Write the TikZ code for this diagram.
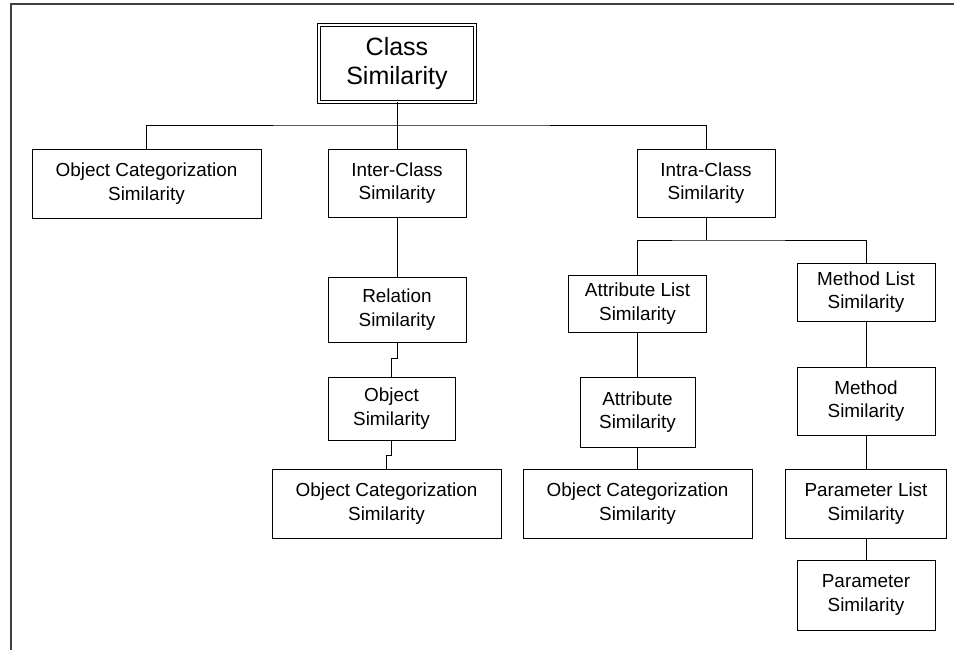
\documentclass[tikz,border=0pt]{standalone}
\usepackage{fontspec}
\setmainfont{Liberation Sans}
\begin{document}
\begin{tikzpicture}[x=1pt,y=-1pt,
  box/.style={draw=black,line width=0.9pt,rectangle,inner sep=0pt,align=center,
    font=\fontsize{18.9}{23.5}\selectfont},
  headbox/.style={draw=black,line width=0.8pt,double,double distance=2.4pt,rectangle,
    inner sep=0pt,align=center,font=\fontsize{25}{29}\selectfont},
  link/.style={draw=black,line width=0.9pt},
  frameline/.style={draw=black!75,line width=1.4pt}]
\useasboundingbox (0,0) rectangle (954,650);
% page frame: top and left edges only
\draw[frameline] (11,650) -- (11,4) -- (954,4);

% root
\node[headbox,minimum width=156pt,minimum height=77pt] (root) at (397,63.5) {Class\\Similarity};

% first level
\node[box,minimum width=229pt,minimum height=69pt] (ocsA) at (146.5,183.5) {Object Categorization\\Similarity};
\node[box,minimum width=138pt,minimum height=68pt] (inter) at (397,183) {Inter-Class\\Similarity};
\node[box,minimum width=138pt,minimum height=68pt] (intra) at (706,183) {Intra-Class\\Similarity};

% inter-class branch
\node[box,minimum width=138pt,minimum height=65pt] (rel) at (397,309.5) {Relation\\Similarity};
\node[box,minimum width=127pt,minimum height=63pt] (obj) at (391.5,408.5) {Object\\Similarity};
\node[box,minimum width=229pt,minimum height=69pt] (ocsB) at (386.5,503.5) {Object Categorization\\Similarity};

% intra-class: attributes
\node[box,minimum width=138pt,minimum height=57pt] (alist) at (637.5,303.5) {Attribute List\\Similarity};
\node[box,minimum width=115pt,minimum height=70pt] (attr) at (637.5,412) {Attribute\\Similarity};
\node[box,minimum width=229pt,minimum height=69pt] (ocsC) at (637.5,503.5) {Object Categorization\\Similarity};

% intra-class: methods
\node[box,minimum width=138pt,minimum height=58pt] (mlist) at (866,292) {Method List\\Similarity};
\node[box,minimum width=138pt,minimum height=68pt] (meth) at (866,401) {Method\\Similarity};
\node[box,minimum width=161pt,minimum height=69pt] (plist) at (866,503.5) {Parameter List\\Similarity};
\node[box,minimum width=138pt,minimum height=70pt] (param) at (866,595) {Parameter\\Similarity};

% root bus
\coordinate (busA) at (397,125);
\draw[link] (root.south) -- (busA);
\draw[link] (ocsA.north) |- (busA) -| (intra.north);
\draw[link] (busA) -- (inter.north);

% inter-class chain
\draw[link] (inter.south) -- (rel.north);
\draw[link] (rel.south) -- ++(0,16) -| (obj.north);
\draw[link] (obj.south) -- ++(0,15) -| (ocsB.north);

% intra-class bus
\coordinate (busB) at (706,240);
\draw[link] (intra.south) -- (busB);
\draw[link] (alist.north) |- (busB) -| (mlist.north);

% attribute chain
\draw[link] (alist.south) -- (attr.north);
\draw[link] (attr.south) -- (ocsC.north);

% method chain
\draw[link] (mlist.south) -- (meth.north);
\draw[link] (meth.south) -- (plist.north);
\draw[link] (plist.south) -- (param.north);
\end{tikzpicture}
\end{document}
